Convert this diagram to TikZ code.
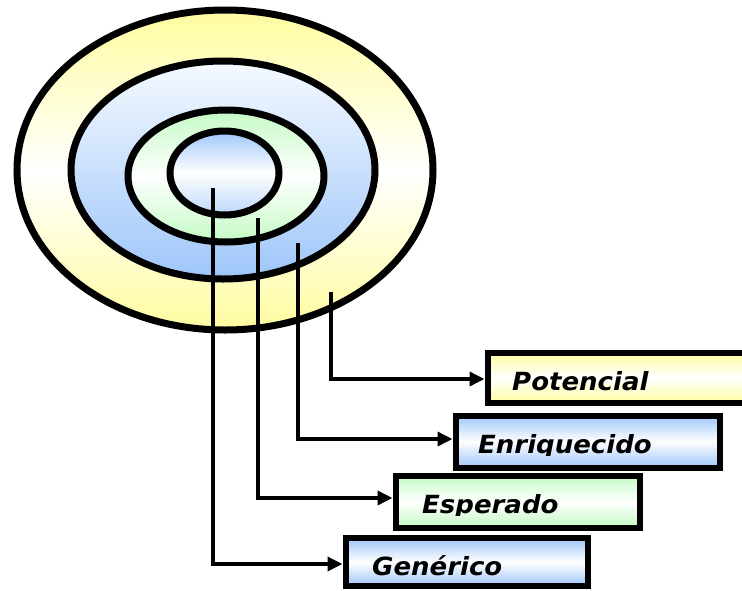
\documentclass[tikz,border=0pt]{standalone}
\usepackage{fontspec}
\newfontfamily\boxfont{DejaVu Sans}
\usetikzlibrary{arrows.meta}
\definecolor{yel}{RGB}{255,252,160}
\definecolor{blu}{RGB}{158,198,250}
\definecolor{grn}{RGB}{196,250,196}
\tikzset{
  ring/.style={line width=7pt},
  labelbox/.style={draw, line width=6pt, inner sep=0pt},
  conn/.style={line width=3.5pt, -{Triangle[length=15pt,width=14pt]}},
  lbl/.style={anchor=base west, inner sep=0pt, font=\boxfont\bfseries\itshape\fontsize{25}{28}\selectfont}
}
\begin{document}
\begin{tikzpicture}[x=1pt,y=-1pt]
\useasboundingbox (0,0) rectangle (742,590);
\clip (0,0) rectangle (742,590);
% rings
\draw[ring, top color=yel, bottom color=yel, middle color=white] (225,170) ellipse [x radius=208, y radius=160];
\draw[ring, top color=blu!10, bottom color=blu] (223,170) ellipse [x radius=152, y radius=109];
\draw[ring, top color=grn, bottom color=grn, middle color=white] (226,176) ellipse [x radius=98, y radius=66];
\draw[ring, top color=blu, bottom color=blu!70, middle color=white] (224.5,173) ellipse [x radius=54.5, y radius=42];
% connector starts
\coordinate (c1) at (213,188);
\coordinate (c2) at (258,218);
\coordinate (c3) at (298,243);
\coordinate (c4) at (331,292);
% boxes
\node[labelbox, top color=yel, bottom color=yel, middle color=white, minimum width=270pt, minimum height=50pt] (pot) at (622.5,377.5) {};
\node[labelbox, top color=blu, bottom color=blu, middle color=white, minimum width=264pt, minimum height=52pt] (enr) at (587.5,441.5) {};
\node[labelbox, top color=grn, bottom color=grn, middle color=white, minimum width=244pt, minimum height=52pt] (esp) at (517.5,501.5) {};
\node[labelbox, top color=blu, bottom color=blu, middle color=white, minimum width=242pt, minimum height=48pt] (gen) at (466.5,562) {};
% texts (clipped just below the baseline)
\begin{scope}
\clip (485,350) rectangle (760,392.5);
\node[lbl] (tpot) at (512,390) {\scalebox{1.04}[1]{Potencial}};
\end{scope}
\begin{scope}
\clip (453,413) rectangle (722,455.5);
\node[lbl] (tenr) at (478,453) {\scalebox{1.04}[1]{Enriquecido}};
\end{scope}
\begin{scope}
\clip (393,473) rectangle (642,515.5);
\node[lbl] (tesp) at (422,513) {\scalebox{1.04}[1]{Esperado}};
\end{scope}
\begin{scope}
\clip (343,537) rectangle (590,577.5);
\node[lbl] (tgen) at (372,575) {\scalebox{1.04}[1]{Genérico}};
\end{scope}
% connectors
\draw[conn] (c4) |- ([yshift=-1.5pt]pot.west);
\draw[conn] (c3) |- ([yshift=2.5pt]enr.west);
\draw[conn] (c2) |- ([yshift=3.5pt]esp.west);
\draw[conn] (c1) |- ([yshift=-2pt]gen.west);
\end{tikzpicture}
\end{document}
